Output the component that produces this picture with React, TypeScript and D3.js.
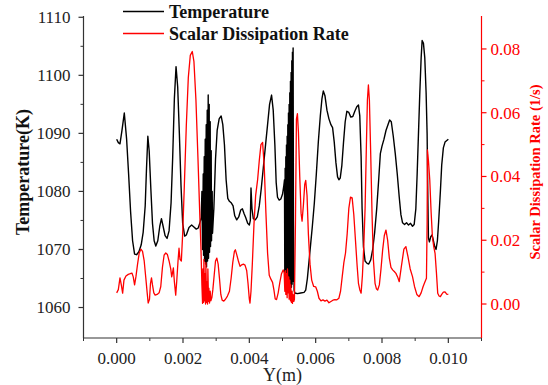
import React from "react";
import * as d3 from "d3";

const W = 548;
const H = 385;

// Temperature (K) vs Y (m)
const tempX: number[] = [
  0.0, 0.00005, 0.0001, 0.00016, 0.00023, 0.0003, 0.00036, 0.00042, 0.00048, 0.00054, 0.0006, 0.00067, 0.00074, 0.0008, 0.00086, 0.0009, 0.00094, 0.00098, 0.00103, 0.00108, 0.00113, 0.00118, 0.00124, 0.0013, 0.00135, 0.0014, 0.00146, 0.00152, 0.00158, 0.00164, 0.00169, 0.00174, 0.00179, 0.00184, 0.00189, 0.00194, 0.00199, 0.00205, 0.0021, 0.00218, 0.00226, 0.00232, 0.0024, 0.00246, 0.00252, 0.00255,
  0.00257, 0.00259, 0.00261, 0.00262, 0.00264, 0.00265, 0.00267, 0.00268, 0.0027, 0.00271, 0.00273, 0.00274, 0.00276, 0.00277, 0.00279, 0.0028, 0.00282, 0.00283, 0.00285, 0.00286, 0.00288, 0.00289,
  0.00293, 0.00298, 0.00303, 0.00309, 0.00315, 0.0032, 0.00325, 0.0033, 0.00335, 0.0034, 0.00346, 0.00351, 0.00356, 0.00362, 0.00368, 0.00374, 0.00379, 0.00384, 0.00389, 0.00395, 0.004, 0.00403, 0.00405, 0.00408, 0.00412, 0.00418, 0.00424, 0.0043, 0.00436, 0.00442, 0.00448, 0.00455, 0.00461, 0.00467, 0.00472, 0.00477, 0.00481, 0.00485, 0.0049, 0.00495, 0.005, 0.00504,
  0.00506, 0.00507, 0.00508, 0.00509, 0.0051, 0.00511, 0.00512, 0.00513, 0.00514, 0.00515, 0.00516, 0.00517, 0.00518, 0.00519, 0.0052, 0.00521, 0.00522, 0.00523, 0.00524, 0.00525, 0.00526, 0.00527, 0.00528, 0.00529, 0.0053, 0.00531, 0.00532, 0.00533, 0.00535,
  0.00537, 0.00545, 0.00555, 0.00565, 0.0057, 0.00575, 0.0058, 0.00585, 0.0059, 0.00596, 0.00602, 0.00608, 0.00614, 0.00619, 0.00623, 0.00628, 0.00634, 0.0064, 0.00646, 0.00651, 0.00656, 0.00661, 0.00666, 0.0067, 0.00674, 0.00679, 0.00684, 0.00689, 0.00694, 0.007, 0.00706, 0.00712, 0.00718, 0.00724, 0.00729, 0.00733, 0.00737, 0.0074, 0.00744, 0.00749, 0.00755, 0.0076, 0.00766, 0.00772, 0.00778, 0.00784, 0.0079, 0.00795, 0.008, 0.00806, 0.00812, 0.00818, 0.00823, 0.00828, 0.00834, 0.0084, 0.00846, 0.00852, 0.00857, 0.00862, 0.00868, 0.00874, 0.0088, 0.00886, 0.00892, 0.00897, 0.00902, 0.00906, 0.0091, 0.00914, 0.00918, 0.00921, 0.00925, 0.00929, 0.00933, 0.00936, 0.00938, 0.0094, 0.00943, 0.00947, 0.00951, 0.00955, 0.00959, 0.00963, 0.00967, 0.00971, 0.00976, 0.0098, 0.00985, 0.0099, 0.01,
];
const tempY: number[] = [
  1089.0, 1088.4, 1088.2, 1090.5, 1093.5, 1089, 1083, 1076.5, 1071.5, 1069.2, 1069.1, 1069.6, 1070.8, 1073, 1077.5, 1084, 1089.5, 1087, 1080.5, 1074.5, 1071.5, 1070.6, 1071.5, 1074, 1075.3, 1074, 1072.4, 1071.9, 1073.2, 1078, 1086, 1096, 1101.5, 1098, 1090, 1081, 1074.5, 1072.3, 1072.5, 1073.8, 1074.2, 1073.9, 1073.5, 1073.7, 1074.8, 1075.5,
  1080, 1070, 1083, 1069, 1086, 1068, 1089, 1067.5, 1091.5, 1067, 1094, 1068, 1096.6, 1068.5, 1095, 1069.5, 1092, 1070.5, 1087, 1071.5, 1080, 1072.8,
  1077, 1085.5, 1090.5, 1092.5, 1093, 1091.5, 1088, 1082, 1078.8, 1078.3, 1078, 1077.5, 1075.8, 1075.1, 1075.6, 1076.8, 1077, 1076.2, 1075.5, 1074.5, 1074.2, 1075, 1080.6, 1077, 1075.3, 1075.1, 1075.6, 1077.5, 1080.5, 1084, 1087.5, 1091.5, 1095, 1096.6, 1094, 1088, 1081.5, 1079, 1078.5, 1078.7, 1079.5, 1081,
  1082, 1064, 1084, 1063.5, 1086, 1063.8, 1088, 1063.5, 1089.5, 1064, 1091.5, 1063.6, 1093.5, 1063.8, 1095, 1063.5, 1097, 1064, 1099, 1063.7, 1100.5, 1063.5, 1102.5, 1064, 1104, 1064.5, 1104.7, 1075, 1063,
  1062.5, 1062.4, 1062.5, 1062.6, 1063, 1065, 1068, 1071, 1074, 1078, 1083, 1088.5, 1093, 1096, 1097.3, 1096.5, 1094, 1092.5, 1091.5, 1091, 1088.5, 1085, 1082.5, 1082, 1082.3, 1084.5, 1088.5, 1092, 1093.8, 1093.6, 1092.8, 1092.9, 1093.8, 1094.6, 1094.9, 1093, 1086, 1077, 1070.5, 1068, 1067.6, 1067.5, 1068.2, 1070, 1073, 1077, 1082, 1086.5, 1087.8, 1089, 1090.5, 1091.5, 1092.3, 1092, 1089.5, 1086.5, 1083, 1079, 1076, 1074.6, 1074.3, 1074.6, 1074.2, 1074.5, 1074, 1074.3, 1077, 1083, 1090, 1097, 1103, 1106, 1105.5, 1103, 1097, 1090, 1080, 1072, 1071.3, 1072.2, 1072.5, 1071.5, 1070.5, 1070, 1071.5, 1075, 1080, 1084.5, 1087.5, 1088.5, 1089,
];

// Scalar dissipation rate (1/s) vs Y (m)
const sdrX: number[] = [
  0.0, 0.00005, 0.0001, 0.00014, 0.00018, 0.00022, 0.00028, 0.00035, 0.00041, 0.00046, 0.0005, 0.00054, 0.00058, 0.00063, 0.00068, 0.00073, 0.00078, 0.00083, 0.00088, 0.00092, 0.00095, 0.00099, 0.00102, 0.00105, 0.00108, 0.00112, 0.00116, 0.00122, 0.00128, 0.00133, 0.00138, 0.00143, 0.00148, 0.00153, 0.00158, 0.00163, 0.00166, 0.00168, 0.00171, 0.00174, 0.00178, 0.00181, 0.00185, 0.00188, 0.00191, 0.00195, 0.00199, 0.00204, 0.0021, 0.00216, 0.00222, 0.00228, 0.00233, 0.00239, 0.00245, 0.0025, 0.00254,
  0.00257, 0.00259, 0.0026, 0.00262, 0.00263, 0.00265, 0.00266, 0.00268, 0.00269, 0.00271, 0.00272, 0.00274, 0.00275, 0.00277, 0.00278, 0.0028, 0.00282, 0.00284, 0.00287,
  0.0029, 0.00294, 0.00298, 0.00302, 0.00306, 0.0031, 0.00314, 0.00318, 0.00323, 0.00328, 0.00334, 0.0034, 0.00345, 0.0035, 0.00355, 0.00358, 0.00362, 0.00367, 0.00372, 0.00377, 0.00382, 0.00387, 0.00392, 0.00396, 0.004, 0.00402, 0.00405, 0.00409, 0.00414, 0.00419, 0.00425, 0.0043, 0.00435, 0.0044, 0.00445, 0.0045, 0.00455, 0.0046, 0.00465, 0.0047, 0.00474, 0.00478, 0.00482, 0.00487, 0.00492, 0.00497, 0.00502, 0.00505,
  0.00507, 0.00509, 0.0051, 0.00512, 0.00514, 0.00515, 0.00517, 0.00519, 0.0052, 0.00522, 0.00524, 0.00525, 0.00527, 0.00529, 0.0053, 0.00532, 0.00534, 0.00536,
  0.00539, 0.00542, 0.00545, 0.00548, 0.00552, 0.00556, 0.00559, 0.00563, 0.00567, 0.0057, 0.00574, 0.00578, 0.00583, 0.00588, 0.00594, 0.006, 0.00605, 0.0061, 0.00616, 0.00622, 0.00628, 0.00634, 0.0064, 0.00646, 0.00652, 0.00658, 0.00664, 0.0067, 0.00675, 0.0068, 0.00685, 0.0069, 0.00695, 0.007, 0.00705, 0.0071, 0.00715, 0.0072, 0.00725, 0.00729, 0.00733, 0.00737, 0.00741, 0.00745, 0.00749, 0.00753, 0.00756, 0.00759, 0.00762, 0.00766, 0.0077, 0.00774, 0.00779, 0.00783, 0.00787, 0.00792, 0.00797, 0.00802, 0.00807, 0.00812, 0.00817, 0.00822, 0.00827, 0.00832, 0.00837, 0.00842, 0.00847, 0.00852, 0.00858, 0.00866, 0.00872, 0.00878, 0.00885, 0.00892, 0.00898, 0.00905, 0.00912, 0.00918, 0.00924, 0.00929, 0.00934, 0.00936, 0.00937, 0.0094, 0.00944, 0.00948, 0.00952, 0.00956, 0.0096, 0.00964, 0.00968, 0.00972, 0.00976, 0.0098, 0.00985, 0.0099, 0.00995, 0.01,
];
const sdrY: number[] = [
  0.0035, 0.0045, 0.0082, 0.006, 0.0034, 0.0075, 0.0088, 0.0093, 0.0095, 0.0097, 0.0085, 0.006, 0.0085, 0.0125, 0.016, 0.0172, 0.0165, 0.0135, 0.008, 0.0035, 0.0003, 0.0015, 0.0065, 0.0082, 0.006, 0.0035, 0.0028, 0.003, 0.0035, 0.0055, 0.0115, 0.0153, 0.016, 0.0155, 0.0135, 0.011, 0.0085, 0.0095, 0.0113, 0.007, 0.0028, 0.007, 0.0135, 0.0175, 0.014, 0.0135, 0.022, 0.037, 0.056, 0.071, 0.078, 0.0792, 0.076, 0.064, 0.046, 0.03, 0.018,
  0.006, 0.0002, 0.011, 0.0005, 0.014, 0.001, 0.0095, 0.0, 0.013, 0.0005, 0.007, 0.0, 0.011, 0.0008, 0.005, 0.0003, 0.004, 0.001, 0.002,
  0.0045, 0.009, 0.0135, 0.0144, 0.0125, 0.008, 0.003, 0.0012, 0.0009, 0.0015, 0.0025, 0.004, 0.008, 0.013, 0.0165, 0.017, 0.0155, 0.0135, 0.0118, 0.0123, 0.0125, 0.0122, 0.0105, 0.0065, 0.0015, 0.0003, 0.004, 0.0125, 0.025, 0.034, 0.039, 0.045, 0.05, 0.0507, 0.043, 0.0285, 0.016, 0.009, 0.0078, 0.0068, 0.0045, 0.0016, 0.0014, 0.0035, 0.0068, 0.0095, 0.0107, 0.0098,
  0.004, 0.0105, 0.003, 0.0095, 0.002, 0.011, 0.0035, 0.0085, 0.0015, 0.0075, 0.001, 0.006, 0.0005, 0.004, 0.0002, 0.003, 0.0008, 0.0015,
  0.025, 0.058, 0.0597, 0.054, 0.04, 0.0285, 0.026, 0.031, 0.0375, 0.0388, 0.034, 0.022, 0.0125, 0.0075, 0.0055, 0.0054, 0.004, 0.0018, 0.001, 0.0013, 0.0009, 0.0012, 0.0004, 0.0008, 0.0012, 0.0014, 0.0013, 0.0018, 0.004, 0.0085, 0.013, 0.016, 0.022, 0.03, 0.0335, 0.0333, 0.028, 0.02, 0.012, 0.0065, 0.0045, 0.0034, 0.009, 0.018, 0.03, 0.05, 0.064, 0.0687, 0.064, 0.047, 0.028, 0.014, 0.0065, 0.0048, 0.0044, 0.006, 0.011, 0.017, 0.0215, 0.0232, 0.02, 0.0145, 0.0115, 0.0107, 0.0102, 0.0096, 0.0085, 0.007, 0.0115, 0.0172, 0.018, 0.015, 0.011, 0.0086, 0.0055, 0.003, 0.0023, 0.0035, 0.0055, 0.0068, 0.0081, 0.025, 0.0483, 0.045, 0.0389, 0.029, 0.0211, 0.018, 0.0159, 0.01, 0.0034, 0.0025, 0.0023, 0.003, 0.0037, 0.0038, 0.0031, 0.003,
];

const xMajor: number[] = [0, 0.002, 0.004, 0.006, 0.008, 0.01];
const xMinor: number[] = [-0.001, 0.001, 0.003, 0.005, 0.007, 0.009, 0.011];
const tMajor: number[] = [1060, 1070, 1080, 1090, 1100, 1110];
const tMinor: number[] = [1065, 1075, 1085, 1095, 1105];
const sMajor: number[] = [0, 0.02, 0.04, 0.06, 0.08];
const sMinor: number[] = [0.01, 0.03, 0.05, 0.07];

const legendLabels: string[] = ["Temperature", "Scalar Dissipation Rate"];

const FONT = "'Liberation Serif', 'Times New Roman', serif";
const RED = "#ff0000";
const AX = "#333";

export default function App() {
  const left = 83.5, right = 481.5, top = 16, bottom = 338;
  const x = d3.scaleLinear().domain([-0.001, 0.011]).range([left, right]);
  const yT = d3.scaleLinear().domain([1054.8, 1110.22]).range([337.7, 16]);
  const yS = d3.scaleLinear().domain([-0.0106, 0.0904]).range([337.8, 15.8]);

  const tempPts: [number, number][] = tempX.map((v, i) => [v, tempY[i]]);
  const sdrPts: [number, number][] = sdrX.map((v, i) => [v, sdrY[i]]);

  const tLine = d3.line<[number, number]>().x((d) => x(d[0])).y((d) => yT(d[1])).curve(d3.curveLinear);
  const sLine = d3.line<[number, number]>().x((d) => x(d[0])).y((d) => yS(d[1])).curve(d3.curveLinear);

  return (
    <svg width={W} height={H} style={{ position: "absolute", left: 0, top: 0, background: "#fff" }} fontFamily={FONT}>
      <rect x={0} y={0} width={W} height={H} fill="#fff" />
      {/* data lines */}
      <path d={tLine(tempPts) || ""} fill="none" stroke="#000" strokeWidth={1.4} strokeLinejoin="round" />
      <path d={sLine(sdrPts) || ""} fill="none" stroke={RED} strokeWidth={1.3} strokeLinejoin="round" />

      {/* left axis */}
      <line x1={left} x2={left} y1={top} y2={bottom} stroke={AX} strokeWidth={1.2} />
      {tMajor.map((t) => (
        <g key={"tM" + t}>
          <line x1={left - 5} x2={left} y1={yT(t)} y2={yT(t)} stroke={AX} strokeWidth={1.2} />
          <text x={left - 13} y={yT(t)} dy="0.35em" textAnchor="end" fontSize={17} fill="#222" fontFamily={FONT}>{t}</text>
        </g>
      ))}
      {tMinor.map((t) => (
        <line key={"tm" + t} x1={left - 3} x2={left} y1={yT(t)} y2={yT(t)} stroke={AX} strokeWidth={1} />
      ))}

      {/* bottom axis */}
      <line x1={left} x2={right} y1={bottom} y2={bottom} stroke={AX} strokeWidth={1.2} />
      {xMajor.map((v) => (
        <g key={"xM" + v}>
          <line x1={x(v)} x2={x(v)} y1={bottom} y2={bottom + 5} stroke={AX} strokeWidth={1.2} />
          <text x={x(v)} y={364} textAnchor="middle" fontSize={17} fill="#222" fontFamily={FONT}>{v.toFixed(3)}</text>
        </g>
      ))}
      {xMinor.map((v) => (
        <line key={"xm" + v} x1={x(v)} x2={x(v)} y1={bottom} y2={bottom + 3} stroke={AX} strokeWidth={1} />
      ))}
      <text x={(left + right) / 2} y={380.5} textAnchor="middle" fontSize={18} fill="#222" fontFamily={FONT}>Y(m)</text>

      {/* right axis */}
      <line x1={right} x2={right} y1={top} y2={bottom} stroke={RED} strokeWidth={1.2} />
      {sMajor.map((s) => (
        <g key={"sM" + s}>
          <line x1={right} x2={right + 5} y1={yS(s)} y2={yS(s)} stroke={RED} strokeWidth={1.2} />
          <text x={right + 9} y={yS(s)} dy="0.35em" textAnchor="start" fontSize={17} fill={RED} fontFamily={FONT}>{s.toFixed(2)}</text>
        </g>
      ))}
      {sMinor.map((s) => (
        <line key={"sm" + s} x1={right} x2={right + 3} y1={yS(s)} y2={yS(s)} stroke={RED} strokeWidth={1} />
      ))}

      {/* axis titles */}
      <text transform="translate(29,172) rotate(-90)" textAnchor="middle" fontSize={18} fontWeight="bold" fill="#111" fontFamily={FONT}>Temperature(K)</text>
      <text transform="translate(540,172) rotate(-90)" textAnchor="middle" fontSize={14.5} fontWeight="bold" fill={RED} fontFamily={FONT}>Scalar Dissipation Rate (1/s)</text>

      {/* legend */}
      <line x1={123} x2={164} y1={11.5} y2={11.5} stroke="#000" strokeWidth={1.5} />
      <text x={169} y={17.5} fontSize={18} fontWeight="bold" fill="#111" fontFamily={FONT}>{legendLabels[0]}</text>
      <line x1={123} x2={164} y1={33.5} y2={33.5} stroke={RED} strokeWidth={1.5} />
      <text x={169} y={40} fontSize={18} fontWeight="bold" fill="#111" fontFamily={FONT}>{legendLabels[1]}</text>
    </svg>
  );
}
